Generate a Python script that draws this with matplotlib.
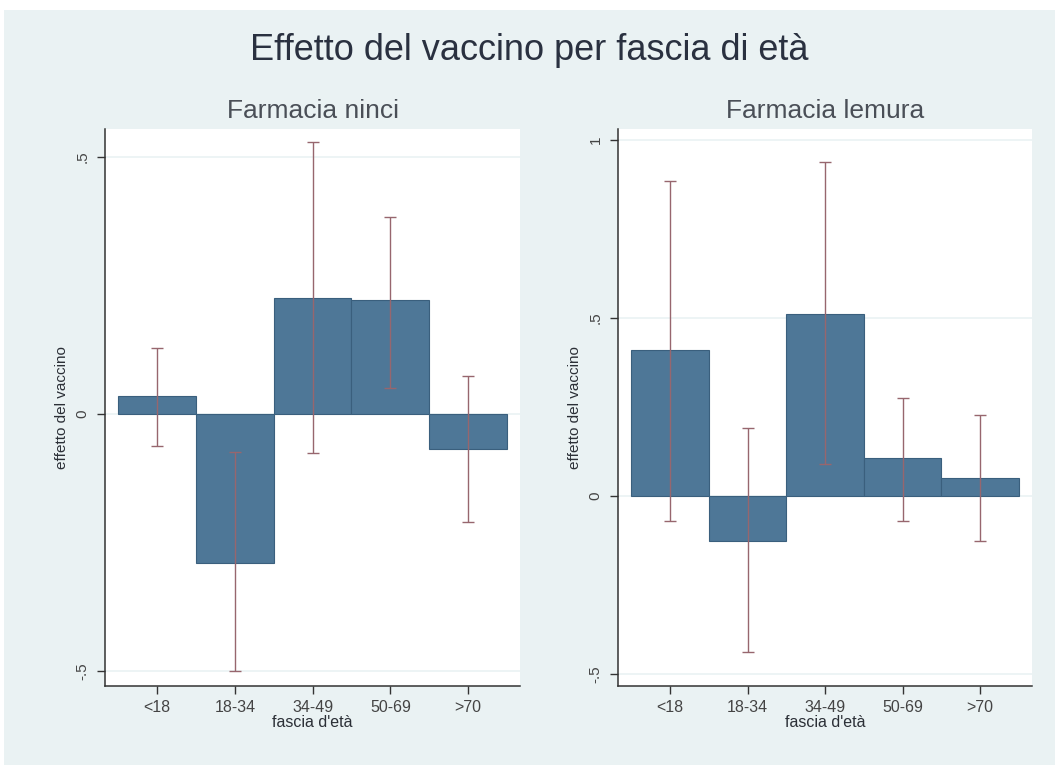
import numpy as np
import matplotlib.pyplot as plt
from matplotlib.patches import Rectangle

# -----------------------------
# Data
# -----------------------------
AGE_GROUPS = ["<18", "18-34", "34-49", "50-69", ">70"]

NINCI_EFFECT = [0.035, -0.29, 0.226, 0.222, -0.068]
NINCI_LOW = [-0.062, -0.50, -0.076, 0.050, -0.210]
NINCI_HIGH = [0.128, -0.074, 0.528, 0.383, 0.074]

LEMURA_EFFECT = [0.41, -0.126, 0.511, 0.107, 0.05]
LEMURA_LOW = [-0.07, -0.438, 0.09, -0.07, -0.126]
LEMURA_HIGH = [0.885, 0.19, 0.937, 0.275, 0.227]

NINCI_TICKS = [-0.5, 0, 0.5]
NINCI_TICK_LABELS = ["-.5", "0", ".5"]
LEMURA_TICKS = [-0.5, 0, 0.5, 1]
LEMURA_TICK_LABELS = ["-.5", "0", ".5", "1"]

BG = "#eaf2f3"
BAR_COLOR = "#4e7797"
BAR_EDGE = "#3a5f7d"
ERR_COLOR = "#97666e"
TEXT = "#2b2f36"

plt.rcParams["font.family"] = ["Liberation Sans", "DejaVu Sans"]


def draw_panel(ax, title, effect, low, high, ticks, tick_labels, ylim):
    x = np.arange(1, len(AGE_GROUPS) + 1)
    effect = np.array(effect)
    yerr = np.array([effect - np.array(low), np.array(high) - effect])

    ax.set_facecolor("white")
    for t in ticks:
        ax.axhline(t, color=BG, linewidth=1.2, zorder=0)

    ax.bar(x, effect, width=1.0, color=BAR_COLOR, edgecolor=BAR_EDGE,
           linewidth=0.8, zorder=2)
    ax.errorbar(x, effect, yerr=yerr, fmt="none", ecolor=ERR_COLOR,
                elinewidth=1.0, capsize=4, capthick=1.0, zorder=3)

    ax.set_xlim(0.33, 5.67)
    ax.set_ylim(*ylim)
    ax.set_xticks(x)
    ax.set_xticklabels(AGE_GROUPS)
    ax.set_yticks(ticks)
    ax.set_yticklabels(tick_labels, rotation=90, va="center")

    for side in ["top", "right"]:
        ax.spines[side].set_visible(False)
    for side in ["left", "bottom"]:
        ax.spines[side].set_color("#333333")
        ax.spines[side].set_linewidth(1.1)

    ax.tick_params(axis="both", direction="out", length=6, width=1,
                   color="#333333", labelcolor="#444444")
    ax.tick_params(axis="x", labelsize=11.5, pad=4)
    ax.tick_params(axis="y", labelsize=11, pad=5)

    ax.set_xlabel("fascia d'età", fontsize=11.5, color=TEXT, labelpad=0)
    ax.set_ylabel("effetto del vaccino", fontsize=11, color=TEXT, labelpad=5)
    ax.set_title(title, fontsize=19, color="#4a4f57", pad=8)


fig = plt.figure(figsize=(10.59, 7.74), dpi=100)
fig.patch.set_facecolor("white")
fig.patches.append(Rectangle((0.004, 0.012), 0.992, 0.975,
                             transform=fig.transFigure, facecolor=BG,
                             edgecolor="none", zorder=-10))

ax1 = fig.add_axes([0.0992, 0.1137, 0.392, 0.7196])
ax2 = fig.add_axes([0.5836, 0.1137, 0.391, 0.7196])

draw_panel(ax1, "Farmacia ninci", NINCI_EFFECT, NINCI_LOW, NINCI_HIGH,
           NINCI_TICKS, NINCI_TICK_LABELS, (-0.529, 0.554))
draw_panel(ax2, "Farmacia lemura", LEMURA_EFFECT, LEMURA_LOW, LEMURA_HIGH,
           LEMURA_TICKS, LEMURA_TICK_LABELS, (-0.534, 1.03))

fig.text(0.5, 0.935, "Effetto del vaccino per fascia di età",
         ha="center", va="center", fontsize=26, color="#2a3140")

fig.savefig("out.png", dpi=100, facecolor=fig.get_facecolor())
